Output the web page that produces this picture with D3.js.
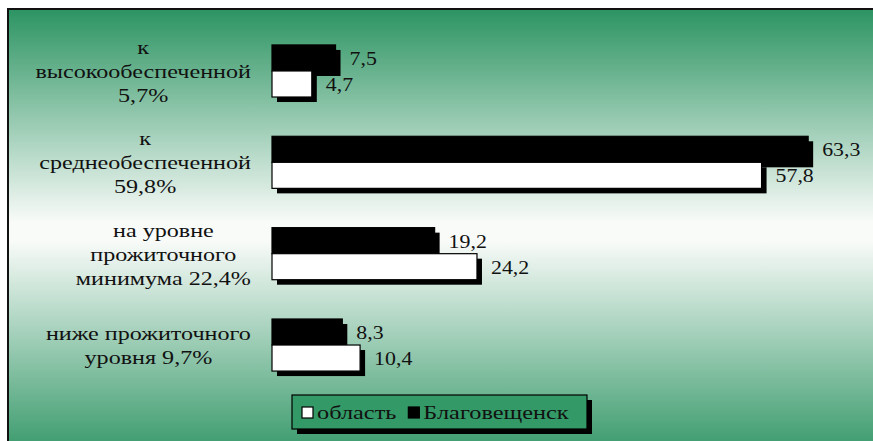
<!DOCTYPE html>
<html>
<head>
<meta charset="utf-8">
<script src="https://cdn.jsdelivr.net/npm/d3@7"></script>
<style>
  html, body { margin: 0; padding: 0; background: #ffffff; }
  svg { display: block; }
</style>
</head>
<body>
<svg id="chart" width="873" height="441"></svg>
<script>
// ---- data ----
const categories = ["к высокообеспеченной 5,7%", "к среднеобеспеченной 59,8%", "на уровне прожиточного минимума 22,4%", "ниже прожиточного уровня 9,7%"];
const categoryLines = [
  ["к", "высокообеспеченной", "5,7%"],
  ["к", "среднеобеспеченной", "59,8%"],
  ["на уровне", "прожиточного", "минимума 22,4%"],
  ["ниже прожиточного", "уровня 9,7%"]
];
const seriesNames = ["Благовещенск", "область"];
const blagoveshchensk = [7.5, 63.3, 19.2, 8.3];
const oblast = [4.7, 57.8, 24.2, 10.4];
const legendOrder = ["область", "Благовещенск"];

// ---- style constants ----
const FONT = '"Liberation Serif", "Times New Roman", Tinos, serif';
const seriesFill = { "Благовещенск": "#000000", "область": "#ffffff" };
const SHADOW = 5;

const svg = d3.select("#chart");
const defs = svg.append("defs");
const grad = defs.append("linearGradient").attr("id", "bg")
  .attr("x1", 0).attr("y1", 0).attr("x2", 0).attr("y2", 1);
grad.append("stop").attr("offset", "0%").attr("stop-color", "#2c9462");
grad.append("stop").attr("offset", "48%").attr("stop-color", "#f9fbf9");
grad.append("stop").attr("offset", "52%").attr("stop-color", "#f9fbf9");
grad.append("stop").attr("offset", "100%").attr("stop-color", "#37996a");

svg.append("rect").attr("x", 8).attr("y", 9).attr("width", 880).attr("height", 445)
  .attr("fill", "url(#bg)").attr("stroke", "#111").attr("stroke-width", 2);

// ---- scales ----
const x = d3.scaleLinear().domain([0, 70]).range([272, 272 + 8.47 * 70]);
const y = d3.scaleBand().domain(categories).range([25.3, 390.7]).paddingInner(0.43).paddingOuter(0.215);
const ySub = d3.scaleBand().domain(seriesNames).range([0, y.bandwidth()]);

const rows = categories.map((c, i) => ({
  cat: c,
  lines: categoryLines[i],
  vals: [
    { s: "Благовещенск", v: blagoveshchensk[i] },
    { s: "область", v: oblast[i] }
  ]
}));

const g = svg.append("g");
rows.forEach(r => {
  const gy = y(r.cat);
  r.vals.forEach(d => {
    const by = gy + ySub(d.s);
    const bh = ySub.bandwidth();
    g.append("rect").attr("x", x(0) + SHADOW).attr("y", by + SHADOW)
      .attr("width", x(d.v) - x(0)).attr("height", bh).attr("fill", "#000");
  });
  r.vals.forEach(d => {
    const by = gy + ySub(d.s);
    const bh = ySub.bandwidth();
    g.append("rect").attr("x", x(0)).attr("y", by)
      .attr("width", x(d.v) - x(0)).attr("height", bh)
      .attr("fill", seriesFill[d.s]).attr("stroke", "#000").attr("stroke-width", 1.2);
    g.append("text")
      .attr("transform", `translate(${x(d.v) + SHADOW + 9},${by + bh / 2 + 7}) scale(1.15,1)`)
      .style("font-family", FONT).attr("font-size", 19).attr("fill", "#111")
      .text(d3.format(".1f")(d.v).replace(".", ","));
  });
});

// ---- category labels ----
const LABEL_RIGHT = 251, LINE_H = 24, CAT_FS = 19, CAT_SX = 1.27;
rows.forEach(r => {
  const cy = y(r.cat) + y.bandwidth() / 2;
  const n = r.lines.length;
  const grp = svg.append("g");
  const texts = r.lines.map(ln => grp.append("text")
    .style("font-family", FONT).attr("font-size", CAT_FS).attr("fill", "#111")
    .attr("text-anchor", "middle").text(ln));
  const maxW = d3.max(texts, t => t.node().getComputedTextLength()) * CAT_SX;
  const cx = LABEL_RIGHT - maxW / 2;
  texts.forEach((t, i) => {
    const by = cy + 7 + (i - (n - 1) / 2) * LINE_H;
    t.attr("transform", `translate(${cx},${by}) scale(${CAT_SX},1)`);
  });
});

// ---- legend ----
const lg = svg.append("g");
const LX = 292, LY = 395, LW = 295, LH = 34, LEG_SX = 1.28;
lg.append("rect").attr("x", LX + 5).attr("y", LY + 5).attr("width", LW).attr("height", LH).attr("fill", "#000");
lg.append("rect").attr("x", LX).attr("y", LY).attr("width", LW).attr("height", LH)
  .attr("fill", "#339966").attr("stroke", "#000").attr("stroke-width", 1.2);
let cursor = LX + 10;
legendOrder.forEach(name => {
  lg.append("rect").attr("x", cursor).attr("y", LY + 12).attr("width", 11).attr("height", 11)
    .attr("fill", seriesFill[name]).attr("stroke", "#000").attr("stroke-width", 1.2);
  const t = lg.append("text")
    .style("font-family", FONT).attr("font-size", 19).attr("fill", "#111").text(name);
  t.attr("transform", `translate(${cursor + 15},${LY + 24}) scale(${LEG_SX},1)`);
  cursor += 15 + t.node().getComputedTextLength() * LEG_SX + 12;
});
</script>
</body>
</html>
